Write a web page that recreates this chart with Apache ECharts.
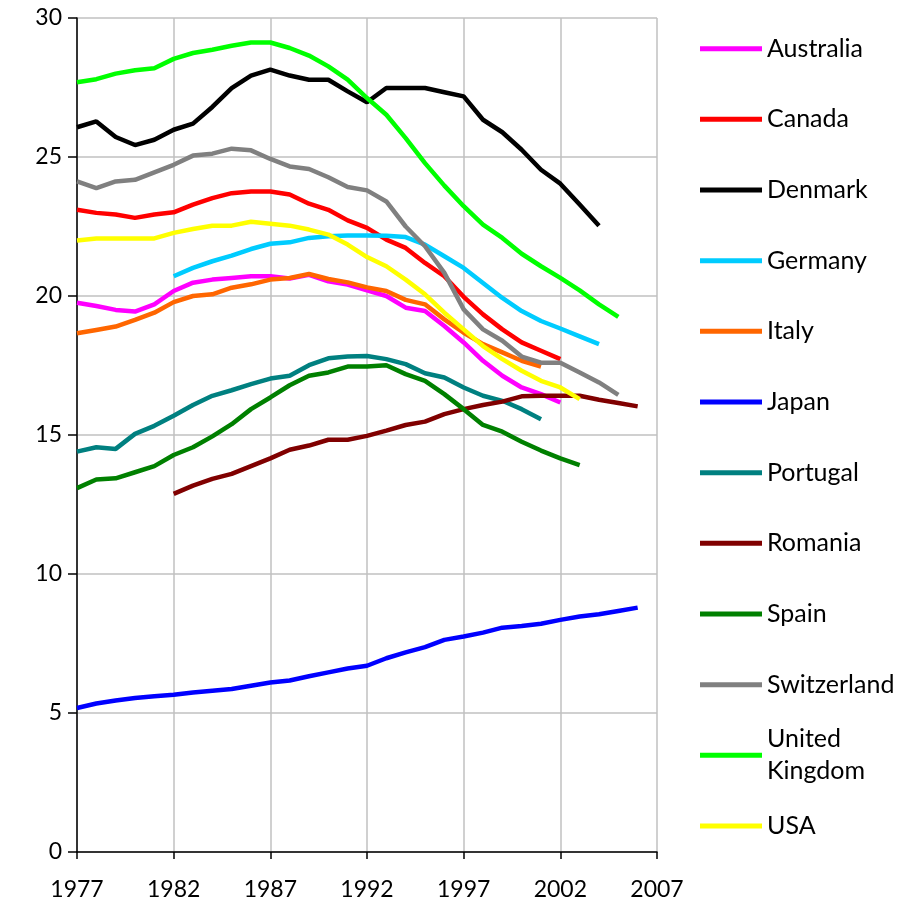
<!DOCTYPE html>
<html>
<head>
<meta charset="utf-8">
<script src="https://cdn.jsdelivr.net/npm/echarts@6/dist/echarts.min.js"></script>
<style>
  html, body { margin: 0; padding: 0; background: #fff; }
  #chart { width: 912px; height: 910px; }
</style>
</head>
<body>
<div id="chart"></div>
<script>
// years on the x axis
const years = []
for (let y = 1977; y <= 2007; y++) years.push(String(y))

const yTicks = [0, 5, 10, 15, 20, 25, 30]

const countries = ['Australia', 'Canada', 'Denmark', 'Germany', 'Italy', 'Japan',
  'Portugal', 'Romania', 'Spain', 'Switzerland', 'United Kingdom', 'USA']

const colors = ['#ff00ff', '#ff0000', '#000000', '#00ccff', '#ff6600', '#0000ff',
  '#008080', '#800000', '#008000', '#808080', '#00ff00', '#ffff00']

// values, 1977 onwards (null = no data)
const australia = [19.76, 19.64, 19.5, 19.44, 19.7, 20.18, 20.48, 20.59, 20.65, 20.71, 20.71, 20.63, 20.76, 20.53, 20.41, 20.2,
  20.0, 19.58, 19.46, 18.92, 18.33, 17.67, 17.13, 16.71, 16.47, 16.17]
const canada = [23.1, 22.99, 22.93, 22.81, 22.93, 23.01, 23.29, 23.52, 23.7, 23.76, 23.76, 23.65, 23.32, 23.1, 22.72, 22.45,
  22.03, 21.73, 21.19, 20.71, 19.97, 19.34, 18.8, 18.33, 18.03, 17.73]
const denmark = [26.07, 26.28, 25.72, 25.43, 25.62, 25.98, 26.2, 26.8, 27.48, 27.93, 28.14, 27.93, 27.78, 27.78, 27.36, 26.97,
  27.48, 27.48, 27.48, 27.33, 27.18, 26.34, 25.89, 25.26, 24.54, 24.04, 23.29, 22.53]
const germany = [null, null, null, null, null, 20.71, 21.01, 21.25, 21.45, 21.69, 21.88, 21.93, 22.09, 22.15, 22.18, 22.18,
  22.17, 22.12, 21.85, 21.43, 21.01, 20.47, 19.93, 19.46, 19.1, 18.83, 18.55, 18.27]
const italy = [18.66, 18.78, 18.9, 19.14, 19.4, 19.78, 20.0, 20.06, 20.3, 20.42, 20.59, 20.65, 20.79, 20.61, 20.49, 20.31,
  20.18, 19.86, 19.7, 19.16, 18.68, 18.27, 17.97, 17.67, 17.46]
const japan = [5.18, 5.34, 5.45, 5.54, 5.6, 5.66, 5.74, 5.8, 5.86, 5.98, 6.1, 6.17, 6.32, 6.46, 6.6, 6.7,
  6.97, 7.18, 7.37, 7.63, 7.75, 7.89, 8.07, 8.13, 8.21, 8.35, 8.47, 8.55, 8.67, 8.79]
const portugal = [14.4, 14.56, 14.5, 15.04, 15.33, 15.69, 16.08, 16.41, 16.61, 16.83, 17.03, 17.13, 17.51, 17.76, 17.82, 17.84,
  17.73, 17.55, 17.22, 17.07, 16.71, 16.41, 16.23, 15.93, 15.57]
const romania = [null, null, null, null, null, 12.88, 13.18, 13.42, 13.6, 13.88, 14.16, 14.47, 14.62, 14.83, 14.83, 14.97,
  15.16, 15.36, 15.48, 15.75, 15.93, 16.08, 16.2, 16.39, 16.41, 16.41, 16.41, 16.27, 16.15, 16.03]
const spain = [13.09, 13.4, 13.44, 13.66, 13.88, 14.28, 14.56, 14.95, 15.39, 15.93, 16.35, 16.79, 17.13, 17.25, 17.46, 17.46,
  17.51, 17.19, 16.95, 16.47, 15.93, 15.36, 15.12, 14.76, 14.44, 14.16, 13.92]
const switzerland = [24.12, 23.88, 24.12, 24.18, 24.45, 24.72, 25.05, 25.12, 25.3, 25.24, 24.93, 24.66, 24.57, 24.27, 23.92, 23.8,
  23.4, 22.5, 21.79, 20.83, 19.52, 18.8, 18.39, 17.82, 17.6, 17.6, 17.25, 16.89, 16.44]
const uk = [27.69, 27.8, 28.0, 28.12, 28.19, 28.53, 28.74, 28.86, 29.0, 29.12, 29.12, 28.92, 28.65, 28.26, 27.78, 27.12,
  26.52, 25.68, 24.78, 23.97, 23.23, 22.57, 22.09, 21.52, 21.07, 20.65, 20.2, 19.7, 19.25]
const usa = [22.0, 22.07, 22.07, 22.07, 22.07, 22.27, 22.41, 22.53, 22.53, 22.67, 22.6, 22.53, 22.39, 22.21, 21.85, 21.4,
  21.07, 20.59, 20.06, 19.4, 18.8, 18.2, 17.73, 17.31, 16.95, 16.71, 16.29]

const seriesData = [australia, canada, denmark, germany, italy, japan,
  portugal, romania, spain, switzerland, uk, usa]

const FONT = 'Lato'

const myChart = echarts.init(document.getElementById('chart'))

// one legend box per country so the rows keep Excel's even spacing
const legends = countries.map((name, i) => {
  const center = 48.7 + i * 70.66
  const twoLines = name === 'United Kingdom'
  return {
    data: [name],
    orient: 'vertical',
    left: 700,
    top: twoLines ? center - 48 : center - 16,
    padding: 0,
    icon: 'rect',
    itemWidth: 62,
    itemHeight: 5,
    selectedMode: false,
    formatter: n => (n === 'United Kingdom' ? 'United\nKingdom' : n),
    textStyle: {
      fontFamily: FONT,
      fontSize: 25,
      lineHeight: 32,
      color: '#000',
      padding: twoLines ? [32, 0, 0, 0] : 0
    }
  }
})

const option = {
  animation: false,
  color: colors,
  legend: legends,
  grid: { left: 77, right: 255, top: 18, bottom: 58 },
  xAxis: {
    type: 'category',
    data: years,
    boundaryGap: false,
    axisLine: { lineStyle: { color: '#000', width: 1.5 } },
    axisTick: { interval: 4, length: 7, lineStyle: { color: '#000', width: 1.5 } },
    axisLabel: { interval: 4, margin: 26, color: '#000', fontFamily: FONT, fontSize: 23 },
    splitLine: { show: true, interval: 4, lineStyle: { color: '#c0c0c0', width: 1.5 } }
  },
  yAxis: {
    type: 'value',
    min: yTicks[0],
    max: yTicks[yTicks.length - 1],
    interval: 5,
    axisLine: { show: true, lineStyle: { color: '#000', width: 1.5 } },
    axisTick: { show: true, length: 9, lineStyle: { color: '#000', width: 1.5 } },
    axisLabel: { margin: 15, color: '#000', fontFamily: FONT, fontSize: 23 },
    splitLine: { show: true, lineStyle: { color: '#c0c0c0', width: 1.5 } }
  },
  series: countries.map((name, i) => ({
    name: name,
    type: 'line',
    data: seriesData[i],
    symbol: 'none',
    showSymbol: false,
    itemStyle: { color: colors[i] },
    lineStyle: { color: colors[i], width: 4.5 }
  }))
}
option && myChart.setOption(option)
</script>
</body>
</html>
